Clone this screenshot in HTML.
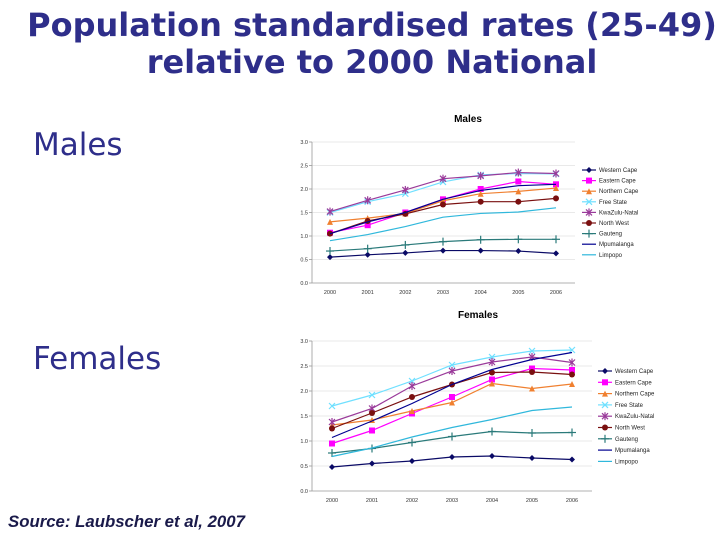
<!DOCTYPE html>
<html><head><meta charset="utf-8"><style>
html,body{margin:0;padding:0;background:#fff}
body{width:720px;height:540px;position:relative;overflow:hidden;font-family:"Liberation Sans",sans-serif}
.t{position:absolute;left:0;width:744px;text-align:center;font-family:"DejaVu Sans","Liberation Sans",sans-serif;font-weight:bold;font-size:32px;color:#2e2e8a;line-height:37px}
.lab{position:absolute;left:33px;font-size:31px;color:#2e2e8a;font-family:"DejaVu Sans","Liberation Sans",sans-serif}
.src{position:absolute;left:8px;top:512px;font-size:16.8px;font-style:italic;font-weight:bold;color:#1a1a4a}
</style></head><body>
<div class="t" style="top:7px">Population standardised rates (25-49)<br>relative to 2000 National</div>
<div class="lab" style="top:127px">Males</div>
<div class="lab" style="top:341px">Females</div>
<div class="src">Source: Laubscher et al, 2007</div>
<svg id="svg" width="720" height="540" style="position:absolute;left:0;top:0"></svg>
<script>
const years=["2000","2001","2002","2003","2004","2005","2006"];
const yTicks=[0,0.5,1,1.5,2,2.5,3];
const names=["Western Cape","Eastern Cape","Northern Cape","Free State","KwaZulu-Natal","North West","Gauteng","Mpumalanga","Limpopo"];
const colors=["#0a0a66","#ff00ff","#f08030","#70e0ff","#9a3a9a","#7a1010","#2a7a7a","#000090","#30b8dc"];
const markers=["diamond","square","triangle","x","star","circle","plus","none","none"];
const malesWC=[.55,.6,.64,.69,.69,.68,.63];
const malesEC=[1.07,1.23,1.5,1.78,2.0,2.16,2.1];
const malesNC=[1.3,1.38,1.48,1.75,1.9,1.95,2.02];
const malesFS=[1.5,1.73,1.9,2.15,2.3,2.33,2.32];
const malesKZN=[1.52,1.76,1.98,2.22,2.28,2.35,2.33];
const malesNW=[1.05,1.32,1.47,1.67,1.73,1.73,1.8];
const malesGT=[.68,.73,.81,.88,.92,.93,.93];
const malesMP=[1.05,1.3,1.5,1.78,1.97,2.07,2.1];
const malesLP=[.9,1.03,1.2,1.4,1.48,1.51,1.6];
const femWC=[.48,.55,.6,.68,.7,.66,.63];
const femEC=[.95,1.21,1.55,1.88,2.23,2.45,2.42];
const femNC=[1.32,1.42,1.6,1.77,2.15,2.05,2.14];
const femFS=[1.7,1.92,2.2,2.52,2.68,2.8,2.82];
const femKZN=[1.38,1.65,2.1,2.4,2.58,2.68,2.57];
const femNW=[1.25,1.56,1.88,2.13,2.37,2.38,2.33];
const femGT=[.76,.85,.97,1.09,1.19,1.16,1.17];
const femMP=[1.07,1.4,1.75,2.13,2.43,2.63,2.77];
const femLP=[.69,.86,1.08,1.27,1.43,1.61,1.68];
const NS="http://www.w3.org/2000/svg";
const svg=document.getElementById('svg');
function mk(tag,attrs,parent){const e=document.createElementNS(NS,tag);for(const k in attrs)e.setAttribute(k,attrs[k]);(parent||svg).appendChild(e);return e;}
function marker(g,type,x,y,c){
  const s=3;
  if(type==="diamond")mk('polygon',{points:`${x},${y-s} ${x+s},${y} ${x},${y+s} ${x-s},${y}`,fill:c},g);
  else if(type==="square")mk('rect',{x:x-s,y:y-s,width:2*s,height:2*s,fill:c},g);
  else if(type==="triangle")mk('polygon',{points:`${x},${y-s} ${x+s},${y+s} ${x-s},${y+s}`,fill:c},g);
  else if(type==="circle")mk('circle',{cx:x,cy:y,r:s,fill:c},g);
  else if(type==="x"||type==="star"||type==="plus"){
    if(type!=="plus"){mk('line',{x1:x-s,y1:y-s,x2:x+s,y2:y+s,stroke:c,'stroke-width':1.2},g);mk('line',{x1:x-s,y1:y+s,x2:x+s,y2:y-s,stroke:c,'stroke-width':1.2},g);}
    if(type!=="x")mk('line',{x1:x,y1:y-s-1,x2:x,y2:y+s+1,stroke:c,'stroke-width':1.2},g);
    if(type==="plus")mk('line',{x1:x-s-1,y1:y,x2:x+s+1,y2:y,stroke:c,'stroke-width':1.2},g);
  }
}
function chart(o){
  const g=mk('g',{});
  
  
  const yS=v=>o.y0-(v/3)*(o.y0-o.y3);
  const xS=i=>o.x0+i*(o.x6-o.x0)/6;
  const tt=mk('text',{x:o.tx,y:o.ty,'text-anchor':'middle','font-size':10,'font-weight':'bold',fill:'#000'},g);
  tt.textContent=o.title;
  
  
  yTicks.forEach(v=>{
    const y=yS(v);
    mk('line',{x1:o.left,x2:o.right,y1:y,y2:y,stroke:v===0?'#999':'#e2e2e2','stroke-width':0.8},g);
    mk('line',{x1:o.left-3,x2:o.left,y1:y,y2:y,stroke:'#999','stroke-width':0.8},g);
    const t=mk('text',{x:o.left-4,y:y+2,'text-anchor':'end','font-size':5.5,fill:'#333'},g);
    t.textContent=v.toFixed(1);
    
    
  });
  mk('line',{x1:o.left,x2:o.left,y1:o.y3,y2:o.y0,stroke:'#999','stroke-width':0.8},g);
  years.forEach((yr,i)=>{
    const t=mk('text',{x:xS(i),y:o.y0+11,'text-anchor':'middle','font-size':5.5,fill:'#333'},g);
    t.textContent=yr;
    
    
  });
  o.series.forEach((s,k)=>{
    const sg=mk('g',{},g);
    
    
    mk('polyline',{points:s.map((v,i)=>xS(i)+','+yS(v)).join(' '),fill:'none',stroke:colors[k],'stroke-width':1.2},sg);
    s.forEach((v,i)=>marker(sg,markers[k],xS(i),yS(v),colors[k]));
    const ly=o.ly+k*o.lstep, lx=o.lx;
    const lg=mk('g',{},g);
    
    
    mk('line',{x1:lx,x2:lx+14,y1:ly,y2:ly,stroke:colors[k],'stroke-width':1.2},lg);
    marker(lg,markers[k],lx+7,ly,colors[k]);
    const t=mk('text',{x:lx+17,y:ly+2,'font-size':6,fill:'#222'},lg);
    t.textContent=names[k];
  });
}
chart({name:'males-chart',title:'Males',tx:468,ty:122,x0:330,x6:556,y0:283,y3:142,left:312,right:575,lx:582,ly:170,lstep:10.6,
  series:[malesWC,malesEC,malesNC,malesFS,malesKZN,malesNW,malesGT,malesMP,malesLP]});
chart({name:'females-chart',title:'Females',tx:478,ty:318,x0:332,x6:572,y0:491,y3:341,left:312,right:592,lx:598,ly:371,lstep:11.3,
  series:[femWC,femEC,femNC,femFS,femKZN,femNW,femGT,femMP,femLP]});
</script>
</body></html>
